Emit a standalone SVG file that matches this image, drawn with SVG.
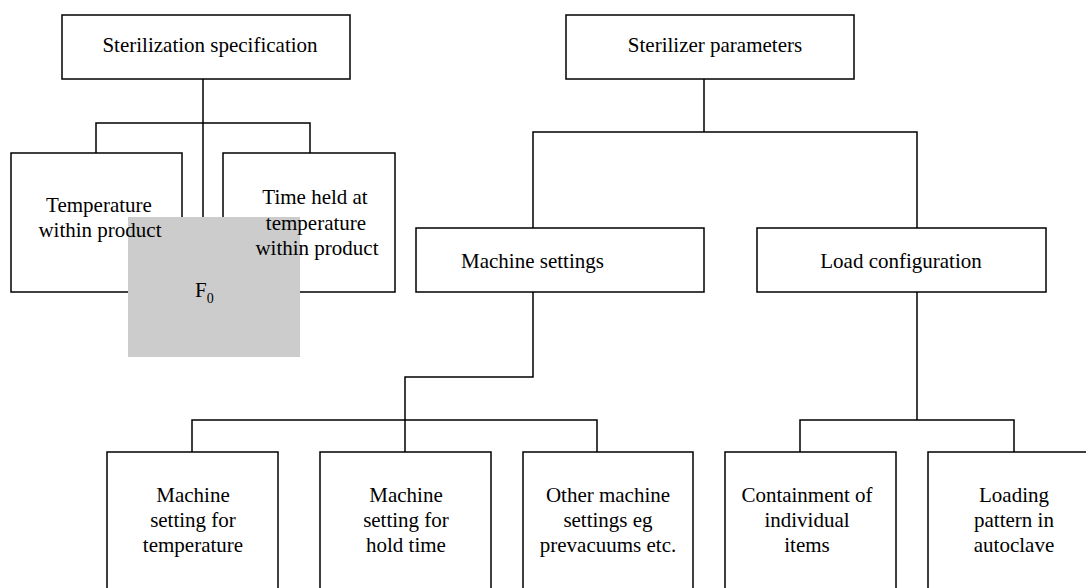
<svg xmlns="http://www.w3.org/2000/svg" width="1086" height="588" viewBox="0 0 1086 588">
<style>
.box{fill:#fff;stroke:#000;stroke-width:1.5}
.conn{fill:none;stroke:#000;stroke-width:1.5}
text{font-family:"Liberation Serif","Times New Roman",serif;font-size:21px;fill:#000}
.c{text-anchor:middle}
</style>
<rect width="1086" height="588" fill="#fff"/>
<g id="connectors">
<path class="conn" d="M203 79V217M96 153V123H310V153"/>
<path class="conn" d="M704 79V132M533 228V132H917V228"/>
<path class="conn" d="M533 292V377H405V452M192 452V420H597V452"/>
<path class="conn" d="M917 292V420M800 452V420H1014V452"/>
</g>
<g id="sterilization-specification"><rect class="box" x="62" y="15" width="288" height="64"/><text class="c" x="210" y="52">Sterilization specification</text></g>
<g id="temperature-within-product"><rect class="box" x="11" y="153" width="171" height="139"/></g>
<g id="time-held"><rect class="box" x="223" y="153" width="172" height="139"/></g>
<g id="f0"><rect x="128" y="217" width="172" height="140" fill="#cccccc"/><text x="195" y="297">F<tspan font-size="14" dy="6">0</tspan></text></g>
<g id="temperature-text"><text class="c" x="99" y="212">Temperature</text><text class="c" x="100" y="237">within product</text></g>
<g id="time-text"><text class="c" x="315" y="204">Time held at</text><text class="c" x="316" y="230">temperature</text><text class="c" x="317" y="255">within product</text></g>
<g id="sterilizer-parameters"><rect class="box" x="566" y="15" width="288" height="64"/><text class="c" x="715" y="52">Sterilizer parameters</text></g>
<g id="machine-settings"><rect class="box" x="416" y="228" width="288" height="64"/><text x="461" y="268">Machine settings</text></g>
<g id="load-configuration"><rect class="box" x="757" y="228" width="289" height="64"/><text class="c" x="901" y="268">Load configuration</text></g>
<g id="machine-temp"><rect class="box" x="107" y="452" width="171" height="150"/><text class="c" x="193" y="502">Machine</text><text class="c" x="193" y="527">setting for</text><text class="c" x="193" y="552">temperature</text></g>
<g id="machine-hold"><rect class="box" x="320" y="452" width="171" height="150"/><text class="c" x="406" y="502">Machine</text><text class="c" x="406" y="527">setting for</text><text class="c" x="406" y="552">hold time</text></g>
<g id="machine-other"><rect class="box" x="523" y="452" width="170" height="150"/><text class="c" x="608" y="502">Other machine</text><text class="c" x="608" y="527">settings eg</text><text class="c" x="608" y="552">prevacuums etc.</text></g>
<g id="containment"><rect class="box" x="725" y="452" width="171" height="150"/><text class="c" x="807" y="502">Containment of</text><text class="c" x="807" y="527">individual</text><text class="c" x="807" y="552">items</text></g>
<g id="loading-pattern"><rect class="box" x="928" y="452" width="180" height="150"/><text class="c" x="1014" y="502">Loading</text><text class="c" x="1014" y="527">pattern in</text><text class="c" x="1014" y="552">autoclave</text></g>
</svg>
